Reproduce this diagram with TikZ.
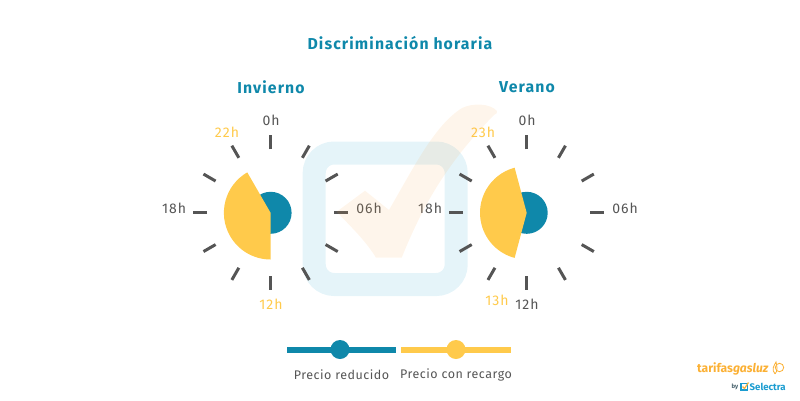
\documentclass[tikz,border=0pt]{standalone}
\usepackage{fontspec}
\setmainfont{Fira Sans}
\newfontfamily\spacedfont[LetterSpace=4]{Fira Sans}
\newfontfamily\widefont[LetterSpace=7]{Fira Sans}
\usetikzlibrary{calc}

\definecolor{tealblue}{HTML}{0F88AA}
\definecolor{sunyellow}{HTML}{FFCA4B}
\definecolor{darkgrey}{HTML}{555555}
\definecolor{paleblue}{HTML}{E5F4F9}
\definecolor{checkorange}{HTML}{F9A03F}
\definecolor{logoorange}{HTML}{FBB034}
\definecolor{logoblue}{HTML}{1B9CD0}

\tikzset{
  heading/.style={text=tealblue, font=\widefont\fontsize{15.8}{16}\selectfont\bfseries, inner sep=0pt},
  hourlabel/.style={text=darkgrey, font=\widefont\fontsize{14}{14}\selectfont, inner sep=0pt},
  hourlabelhot/.style={hourlabel, text=sunyellow},
  legendlabel/.style={text=darkgrey, font=\spacedfont\fontsize{12.5}{13}\selectfont, inner sep=0pt},
  tickmark/.style={draw=darkgrey, line width=3pt},
}

\begin{document}
\begin{tikzpicture}[x=1pt, y=-1pt]
  \useasboundingbox (0,0) rectangle (800,400);

  % big tick behind the clocks
  \draw[paleblue, line width=23pt, rounded corners=20pt] (314.2,153) rectangle (456.2,284.5);

  \node[heading] (title) at (400,43) {Discriminación horaria};
  \node[heading] (winter) at (271,87) {Invierno};
  \node[heading] (summer) at (527,87) {Verano};

  % clocks
  \coordinate (wc) at (270.6,212.8);
  \coordinate (sc) at (526.7,212.8);
  \foreach \a in {0,30,...,330} {
    \draw[tickmark] ($(wc)+(\a:63.5)$) -- ($(wc)+(\a:77.5)$);
    \draw[tickmark] ($(sc)+(\a:63.5)$) -- ($(sc)+(\a:77.5)$);
  }
  \fill[tealblue] (wc) circle (21);
  \fill[tealblue] (sc) circle (21);
  % y axis points down, so the angles run clockwise here
  \fill[sunyellow] (wc) -- ($(wc)+(240:46.7)$) arc (240:90:46.7) -- cycle;
  \fill[sunyellow] (sc) -- ($(sc)+(255:46.7)$) arc (255:105:46.7) -- cycle;

  \node[hourlabel] (w0) at (271,120.5) {0h};
  \node[hourlabelhot] (w22) at (227,132) {22h};
  \node[hourlabel] (w6) at (369,208) {06h};
  \node[hourlabel] (w18) at (174,208) {18h};
  \node[hourlabelhot] (w12) at (271,304.5) {12h};

  \node[hourlabel] (s0) at (527,120.5) {0h};
  \node[hourlabelhot] (s23) at (483,132) {23h};
  \node[hourlabel] (s18) at (430,208) {18h};
  \node[hourlabel] (s6) at (625,208) {06h};
  \node[hourlabelhot] (s13) at (497,300) {13h};
  \node[hourlabel] (s12) at (527,304.5) {12h};

  \fill[checkorange, opacity=.1] (336.7,211.7) -- (365,190.7) -- (389,210)
    .. controls (415,165) and (435,125) .. (462,108)
    .. controls (472,103) and (490,103) .. (497,111)
    .. controls (498,114) and (496,113) .. (494,115)
    .. controls (450,160) and (425,200) .. (401.7,257.7)
    -- (376,257.7) .. controls (365,240) and (352,228) .. cycle;

  % legend
  \coordinate (la) at (287,350);
  \coordinate (lb) at (396,350);
  \coordinate (lc) at (401,350);
  \coordinate (ld) at (511,350);
  \draw[tealblue, line width=6pt] (la) -- (lb);
  \draw[sunyellow, line width=6pt] (lc) -- (ld);
  \fill[tealblue] (340,349.5) circle (9.5);
  \fill[sunyellow] (456,349.5) circle (9.5);
  \node[legendlabel] (cheap) at (341.5,374.5) {Precio reducido};
  \node[legendlabel] (dear) at (456,374.5) {Precio con recargo};

  % logo
  \node[text=logoorange, font=\fontsize{12.1}{13}\selectfont\bfseries, inner sep=0pt, anchor=west] (logo) at (697,369) {tarifas\textit{gasluz}};
  \draw[logoorange, line width=.8pt] (779.5,367.5) circle (4.2);
  \draw[logoorange, line width=.8pt] (775,374) .. controls (771,369) and (774,366) .. (776,362) .. controls (777,366) and (778,371) .. (775,374);
  \node[text=darkgrey!80!logoblue, font=\fontsize{6}{6}\selectfont\bfseries, inner sep=0pt] (by) at (735,387) {by};
  \draw[logoblue, line width=1.2pt] (741,383.5) rectangle (747.5,390);
  \draw[logoorange, line width=1.2pt] (742.5,386.5) -- (744.5,388.5) -- (748.5,382.5);
  \node[text=logoblue, font=\fontsize{9.6}{11}\selectfont\bfseries, inner sep=0pt, anchor=west] (selectra) at (749.5,386.5) {Selectra};
\end{tikzpicture}
\end{document}
